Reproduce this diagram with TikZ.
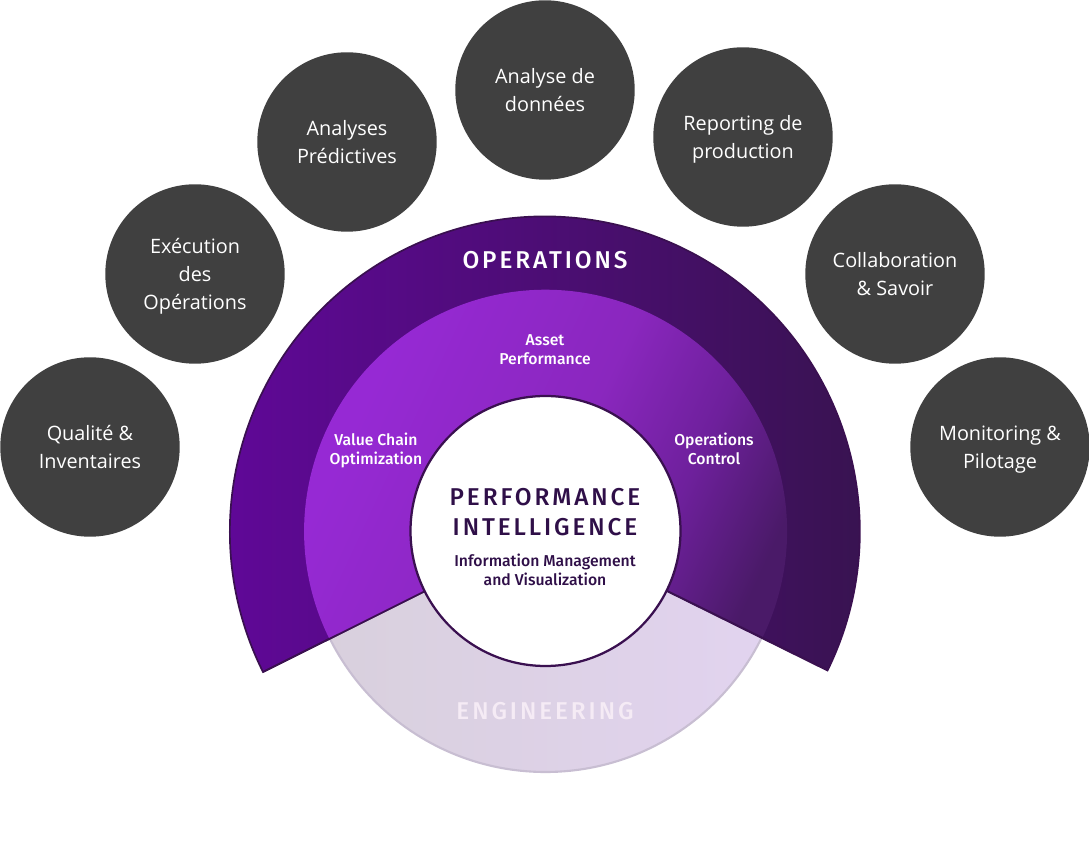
\documentclass[tikz,border=0pt]{standalone}
\usepackage{fontspec}
\setmainfont{Open Sans}
\newfontfamily\labelfont{Fira Sans Medium}
\newfontfamily\titlefont[LetterSpace=12]{Fira Sans Medium}
\definecolor{bubblegrey}{HTML}{404040}
\definecolor{coredark}{HTML}{2F0F48}
\definecolor{ringedge}{HTML}{3A1050}
\definecolor{opsleft}{HTML}{62079C}
\definecolor{opsright}{HTML}{381350}
\definecolor{midbright}{HTML}{9629D4}
\definecolor{midupper}{HTML}{8A27BE}
\definecolor{midlower}{HTML}{6E209C}
\definecolor{middark}{HTML}{4A1A68}
\definecolor{engleft}{HTML}{D8D0DC}
\definecolor{engright}{HTML}{E2D3F0}
\definecolor{engedge}{HTML}{C8BED2}
\pgfdeclarehorizontalshading{bandshade}{100bp}{color(0bp)=(midbright); color(32bp)=(midbright); color(54bp)=(midupper); color(66bp)=(midlower); color(77bp)=(middark); color(100bp)=(middark)}
\tikzset{
  bubble/.style={circle,fill=bubblegrey,text=white,minimum size=127.6pt,inner sep=0pt,align=center,font=\fontsize{14.1}{19.7}\selectfont},
  ringlabel/.style={text=white,align=center,font=\labelfont\fontsize{11.2}{13.5}\selectfont},
  bigtitle/.style={align=center,font=\titlefont\fontsize{17.3}{21.5}\selectfont}
}
\begin{document}
\begin{tikzpicture}[x=0.025cm,y=0.025cm]
    \useasboundingbox (0,0) rectangle (1089,854);
    \coordinate (core) at (545.5,323);
    \coordinate (lefttip) at (263,182);
    \coordinate (righttip) at (828,184);
    \coordinate (leftcut) at (329.5,215);
    % engineering disc
    \draw[engedge,line width=1.5pt,left color=engleft,right color=engright] (core) circle (241);
    % operations ring
    \draw[ringedge,line width=1.2pt,left color=opsleft,right color=opsright] (lefttip) arc[start angle=206.5,end angle=-26.2,radius=315] -- (core) -- cycle;
    % inner band
    \shade[shading=bandshade,shading angle=-25] (leftcut) arc[start angle=206.5,end angle=-26.2,radius=241.5] -- (core) -- cycle;
    \draw[ringedge,line width=1.2pt] (lefttip) -- (core) -- (righttip);
    % centre
    \node[circle,draw=ringedge,line width=1.6pt,fill=white,minimum size=192pt,inner sep=0pt] (hub) at (core) {};
    \node[bigtitle,text=coredark] (perf) at (545,342) {PERFORMANCE\\INTELLIGENCE};
    \node[ringlabel,text=coredark] (info) at (545,284) {Information Management\\and Visualization};
    \node[bigtitle,text=white] (ops) at (545,594) {OPERATIONS};
    \node[bigtitle,text=white!92!violet] (eng) at (545,143) {ENGINEERING};
    \node[ringlabel] (asset) at (545,504) {Asset\\Performance};
    \node[ringlabel] (chain) at (376,404) {Value Chain\\Optimization};
    \node[ringlabel] (control) at (714,405) {Operations\\Control};
    % outer bubbles
    \node[bubble] (qualite) at (90,407) {Qualité \&\\Inventaires};
    \node[bubble,text depth=0pt] (execution) at (195,580) {Exécution\\des\\Opérations};
    \node[bubble] (analyses) at (347,712) {Analyses\\Prédictives};
    \node[bubble] (donnees) at (545,764) {Analyse de\\données};
    \node[bubble,text depth=0pt] (reporting) at (743,717) {Reporting de\\production};
    \node[bubble] (savoir) at (895,580) {Collaboration\\\& Savoir};
    \node[bubble,text depth=0pt] (pilotage) at (1000,407) {Monitoring \&\\Pilotage};
\end{tikzpicture}
\end{document}
